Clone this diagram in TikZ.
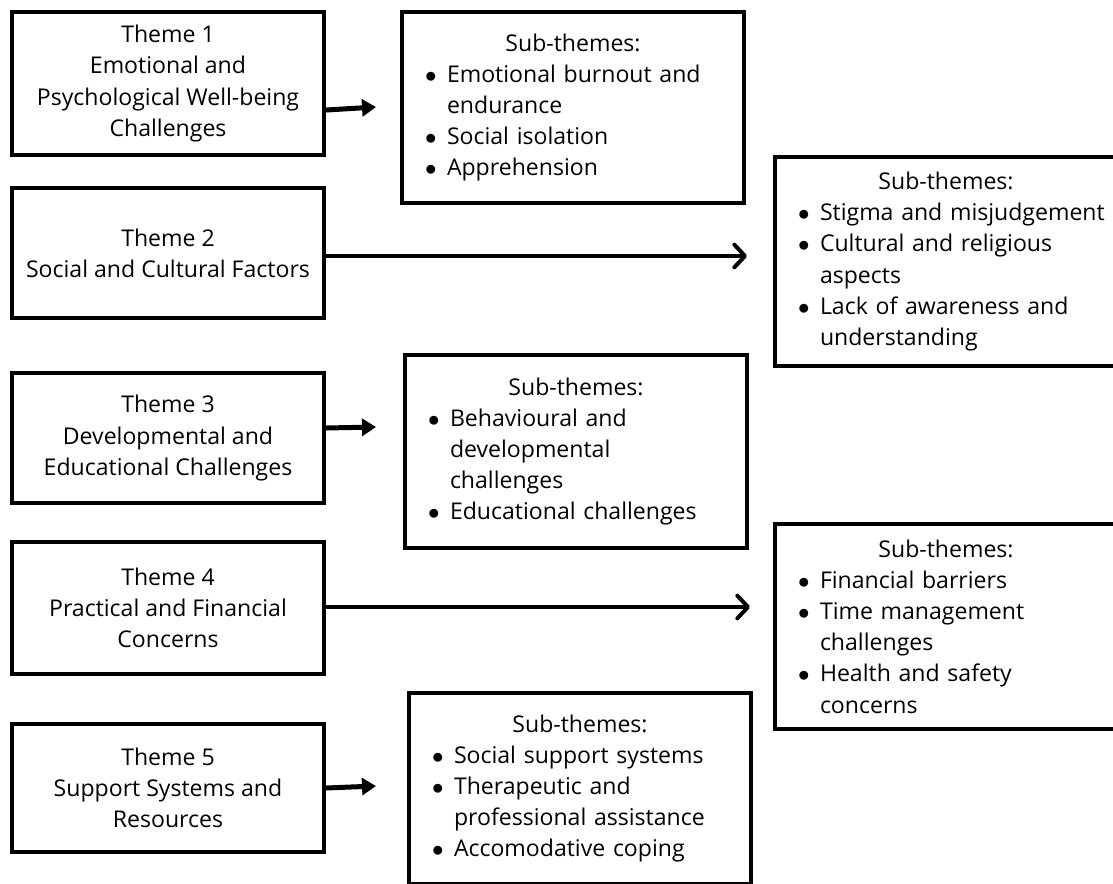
\documentclass[tikz,border=0pt]{standalone}
\usepackage{fontspec}
\setmainfont{Open Sans}
\usetikzlibrary{positioning, arrows.meta}

\newcommand{\sitem}[1]{\hspace*{5.25pt}\makebox[16.5pt][l]{$\bullet$}\mbox{#1}}
\newcommand{\scont}[1]{\hspace*{21.75pt}\mbox{#1}}
\newcommand{\shead}{\makebox[\linewidth][c]{Sub-themes:}}

\tikzset{
  theme/.style={draw, line width=3pt, minimum width=234pt, align=center,
    font=\fontsize{17.3}{23.4}\selectfont},
  sub/.style={draw, line width=3pt, minimum width=256.5pt, inner xsep=12pt,
    text width=232.5pt, align=left, font=\fontsize{17.3}{23.4}\selectfont},
  shortarrow/.style={line width=3.75pt, -{Triangle[length=10.5pt,width=12.75pt]}},
  longarrow/.style={line width=3pt, -{Straight Barb[length=8pt,width=17pt,round]}}
}

\begin{document}
\begin{tikzpicture}[x=0.75pt, y=-0.75pt]
  \useasboundingbox (0,0) rectangle (1113,883);
  \clip (0,0) rectangle (1113,883);
  \fill[white] (0,0) rectangle (1113,883);

  % themes
  \node[theme, minimum height=107.25pt] (t1) at (168,83.5)
    {Theme 1\\Emotional and\\Psychological Well-being\\Challenges};
  \node[theme, minimum height=97.5pt] (t2) at (168,253)
    {Theme 2\\Social and Cultural Factors};
  \node[theme, minimum height=97.5pt] (t3) at (168,438)
    {Theme 3\\Developmental and\\Educational Challenges};
  \node[theme, minimum height=99pt] (t4) at (168,608)
    {Theme 4\\Practical and Financial\\Concerns};
  \node[theme, minimum height=96pt] (t5) at (168,788)
    {Theme 5\\Support Systems and\\Resources};

  % sub-themes
  \node[sub, minimum height=143.25pt] (s1) at (573,107.5)
    {\shead\\\sitem{Emotional burnout and}\\\scont{endurance}\\
     \sitem{Social isolation}\\\sitem{Apprehension}};
  \node[sub, minimum height=156.75pt] (s2) at (946,261.5)
    {\shead\\\sitem{Stigma and misjudgement}\\\sitem{Cultural and religious}\\
     \scont{aspects}\\\sitem{Lack of awareness and}\\\scont{understanding}};
  \node[sub, minimum height=144.75pt] (s3) at (576,451.5)
    {\shead\\\sitem{Behavioural and}\\\scont{developmental}\\\scont{challenges}\\
     \sitem{Educational challenges}};
  \node[sub, minimum height=153.75pt] (s4) at (946,626.5)
    {\shead\\\sitem{Financial barriers}\\\sitem{Time management}\\
     \scont{challenges}\\\sitem{Health and safety}\\\scont{concerns}};
  \node[sub, minimum height=143.25pt] (s5) at (580,788.5)
    {\shead\\\sitem{Social support systems}\\\sitem{Therapeutic and}\\
     \scont{professional assistance}\\\sitem{Accomodative coping}};

  % arrows
  \coordinate (h1) at (376,107);
  \coordinate (h2) at (747,256);
  \coordinate (h3) at (376,427);
  \coordinate (h4) at (750,607);
  \coordinate (h5) at (376,786);
  \draw[shortarrow] ([yshift=-19.9pt]t1.east) -- (h1);
  \draw[longarrow] (t2.east |- h2) -- (h2);
  \draw[shortarrow] ([yshift=7.5pt]t3.east) -- (h3);
  \draw[longarrow] (t4.east |- h4) -- (h4);
  \draw[shortarrow] (t5.east) -- (h5);
\end{tikzpicture}
\end{document}
